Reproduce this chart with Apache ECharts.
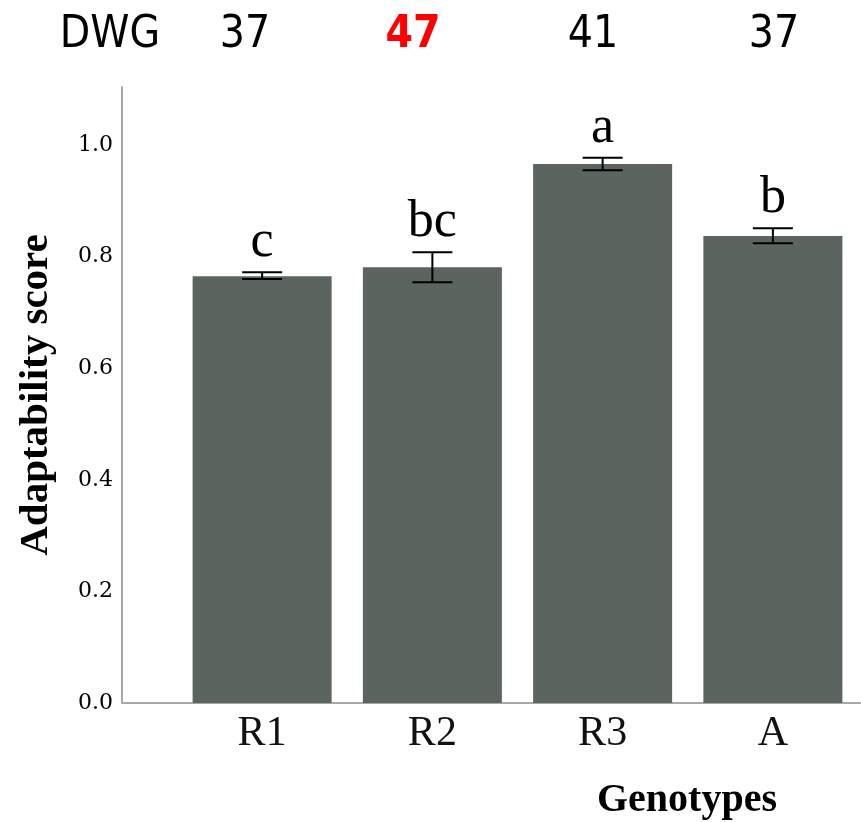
<!DOCTYPE html>
<html>
<head>
<meta charset="utf-8">
<script src="https://cdn.jsdelivr.net/npm/echarts@6/dist/echarts.min.js"></script>
<style>
html,body{margin:0;padding:0;background:#fff;}
#chart{width:861px;height:822px;}
</style>
</head>
<body>
<div id="chart"></div>
<script>
// ---- data ----
var categories = ['R1', 'R2', 'R3', 'A'];
var means = [0.765, 0.781, 0.966, 0.837];
var errLow = [0.760, 0.754, 0.955, 0.824];
var errHigh = [0.772, 0.808, 0.977, 0.851];
var letters = ['c', 'bc', 'a', 'b'];
var dwgTitle = 'DWG';
var dwgValues = ['37', '47', '41', '37'];
var dwgHighlight = [false, true, false, false];
var yTicks = [0, 0.2, 0.4, 0.6, 0.8, 1.0];

var chart = echarts.init(document.getElementById('chart'), null, {renderer: 'canvas'});

var SERIF = '"Liberation Serif", "Times New Roman", serif';
var DWG_FONT = '"DejaVu Sans Condensed", "DejaVu Sans", sans-serif';
var AXIS_COLOR = '#a8a8a8';
var BAR_COLOR = '#5b645e';
var TOP = 87, BOTTOM = 119;

var dwgX = [245, 413, 593, 774];
var graphics = [{
  type: 'text', x: 110, y: 36,
  style: {text: dwgTitle, font: '44px ' + DWG_FONT, fill: '#000', align: 'center', verticalAlign: 'middle'}
}];
dwgValues.forEach(function (v, i) {
  graphics.push({
    type: 'text', x: dwgX[i], y: 36,
    style: {
      text: v,
      font: (dwgHighlight[i] ? 'bold ' : '') + '44px ' + DWG_FONT,
      fill: dwgHighlight[i] ? '#ff0000' : '#000',
      align: 'center', verticalAlign: 'middle'
    }
  });
});
graphics.push({
  type: 'text', x: 687, y: 801,
  style: {text: 'Genotypes', font: 'bold 40px ' + SERIF, fill: '#000', align: 'center', verticalAlign: 'middle'}
});

var option = {
  animation: false,
  backgroundColor: '#fff',
  graphic: graphics,
  grid: [
    {left: 122, right: 1, top: TOP, bottom: BOTTOM, outerBoundsMode: 'none', containLabel: false},
    {left: 177, right: 3, top: TOP, bottom: BOTTOM, outerBoundsMode: 'none', containLabel: false}
  ],
  xAxis: [
    {
      type: 'value', gridIndex: 0, min: 0, max: 1,
      axisLine: {show: true, lineStyle: {color: AXIS_COLOR, width: 2}},
      axisTick: {show: false}, axisLabel: {show: false}, splitLine: {show: false}
    },
    {
      type: 'category', gridIndex: 1, data: categories,
      axisLine: {show: false}, axisTick: {show: false},
      axisLabel: {fontFamily: SERIF, fontSize: 42, color: '#111', margin: 10},
      splitLine: {show: false}
    }
  ],
  yAxis: [
    {
      type: 'value', gridIndex: 0, min: 0, max: 1.104, interval: 0.2,
      axisLine: {show: true, lineStyle: {color: AXIS_COLOR, width: 2}},
      axisTick: {show: false}, splitLine: {show: false},
      axisLabel: {
        fontFamily: '"DejaVu Serif", serif', fontSize: 22, color: '#000', margin: 9,
        showMaxLabel: false,
        formatter: function (v) { return yTicks.indexOf(Math.round(v * 10) / 10) >= 0 && Math.abs(v * 10 - Math.round(v * 10)) < 1e-6 ? v.toFixed(1) : ''; }
      },
      name: 'Adaptability score', nameLocation: 'middle', nameGap: 65, nameRotate: 90,
      nameTextStyle: {fontFamily: SERIF, fontWeight: 'bold', fontSize: 41, color: '#000'}
    },
    {
      type: 'value', gridIndex: 1, min: 0, max: 1.104, show: false
    }
  ],
  series: [
    {
      type: 'bar', xAxisIndex: 1, yAxisIndex: 1, data: means,
      barWidth: 139, itemStyle: {color: BAR_COLOR}, silent: true
    },
    {
      type: 'custom', xAxisIndex: 1, yAxisIndex: 1, silent: true, z: 10,
      data: categories.map(function (c, i) { return [i, errLow[i], errHigh[i]]; }),
      renderItem: function (params, api) {
        var i = api.value(0);
        var lo = api.coord([i, api.value(1)]);
        var hi = api.coord([i, api.value(2)]);
        var half = 20;
        var ls = {stroke: '#000', lineWidth: 2};
        return {
          type: 'group',
          children: [
            {type: 'line', shape: {x1: lo[0], y1: lo[1], x2: hi[0], y2: hi[1]}, style: ls},
            {type: 'line', shape: {x1: lo[0] - half, y1: lo[1], x2: lo[0] + half, y2: lo[1]}, style: ls},
            {type: 'line', shape: {x1: hi[0] - half, y1: hi[1], x2: hi[0] + half, y2: hi[1]}, style: ls},
            {type: 'text', x: hi[0], y: hi[1] - 4,
             style: {text: letters[params.dataIndex], font: '52px ' + SERIF, fill: '#000',
                     align: 'center', verticalAlign: 'bottom'}}
          ]
        };
      }
    }
  ]
};
chart.setOption(option);
</script>
</body>
</html>
